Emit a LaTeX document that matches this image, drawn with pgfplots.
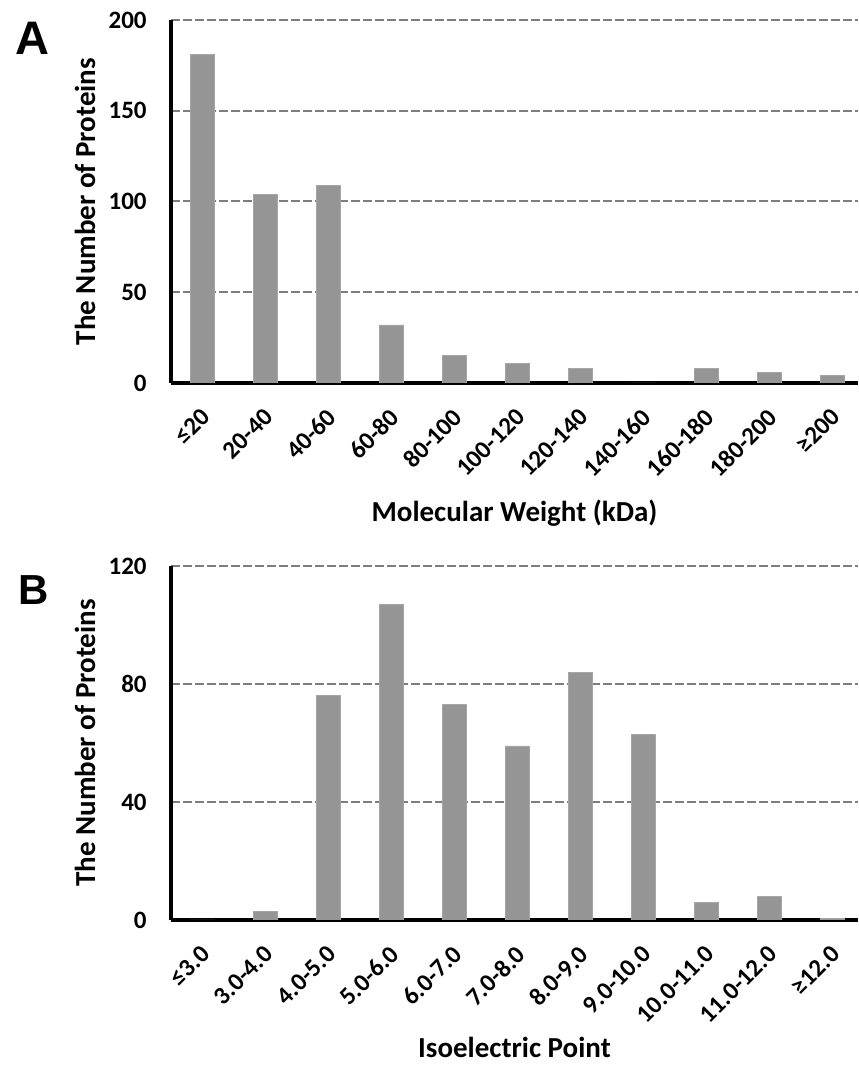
\documentclass[border=0pt]{standalone}
\usepackage{pgfplots}
\usepackage{pgfplotstable}
\pgfplotsset{compat=1.18}
\usepackage{fontspec}
\setmainfont{Carlito}
\newfontfamily\arialfont{Liberation Sans}
\definecolor{barfill}{RGB}{149,149,149}
\definecolor{baredge}{RGB}{165,165,165}
\definecolor{gridc}{RGB}{125,125,125}

\pgfplotstableread{
x y
0 181
1 104
2 109
3 32
4 15
5 11
6 8
7 0
8 8
9 6
10 4
}\mwdata

\pgfplotstableread{
x y
0 0
1 3
2 76
3 107
4 73
5 59
6 84
7 63
8 6
9 8
10 0.6
}\pidata

\pgfplotsset{
  panel/.style={
    scale only axis, width=343.5pt,
    axis x line=bottom, axis y line=left,
    axis line style={-, line width=2pt, black},
    xmin=-0.5, xmax=10.405, ymin=0,
    xtick={0,...,10}, major tick length=0pt,
    ymajorgrids,
    grid style={gridc, line width=1pt, dash pattern=on 4.5pt off 1.5pt},
    ybar, bar width=0.39,
    /pgf/number format/assume math mode=true,
    xticklabel style={font=\fontsize{12.5}{14}\selectfont\bfseries, yshift=-9pt, xshift=-1.5pt, rotate=45, anchor=north east, inner sep=2pt},
    yticklabel style={font=\fontsize{12.5}{14}\selectfont\bfseries, anchor=east, inner sep=0pt, xshift=-12pt},
    label style={font=\fontsize{14.5}{17}\selectfont\bfseries},
  }
}

\begin{document}
\begin{tikzpicture}
\path[use as bounding box] (0,0) rectangle (429pt,534pt);

\begin{axis}[panel,
  at={(85.5pt,342.5pt)}, anchor=south west, height=181.5pt,
  ymax=200, ytick={0,50,100,150,200},
  xticklabels={≤20,20-40,40-60,60-80,80-100,100-120,120-140,140-160,160-180,180-200,≥200},
  xlabel={Molecular Weight (kDa)},
  ylabel={The Number of Proteins},
  xlabel style={at={(axis description cs:0.5,-0.358)}, anchor=center},
  ylabel style={at={(axis description cs:-0.1252,0.5)}, anchor=center},
]
\addplot[fill=barfill, draw=baredge, line width=0.4pt] table[x=x,y=y] {\mwdata};
\end{axis}

\begin{axis}[panel,
  at={(85.5pt,74pt)}, anchor=south west, height=177pt,
  ymax=120, ytick={0,40,80,120},
  xticklabels={≤3.0,3.0-4.0,4.0-5.0,5.0-6.0,6.0-7.0,7.0-8.0,8.0-9.0,9.0-10.0,10.0-11.0,11.0-12.0,≥12.0},
  xlabel={Isoelectric Point},
  ylabel={The Number of Proteins},
  xlabel style={at={(axis description cs:0.5,-0.359)}, anchor=center},
  ylabel style={at={(axis description cs:-0.1252,0.5)}, anchor=center},
]
\addplot[fill=barfill, draw=baredge, line width=0.4pt] table[x=x,y=y] {\pidata};
\end{axis}

\node[anchor=north west, inner sep=0pt] at (7.5pt,523pt) {\arialfont\bfseries\fontsize{23.5}{23.5}\selectfont A};
\node[anchor=north west, inner sep=0pt] at (9pt,246.5pt) {\arialfont\bfseries\fontsize{21}{21}\selectfont B};
\end{tikzpicture}
\end{document}
